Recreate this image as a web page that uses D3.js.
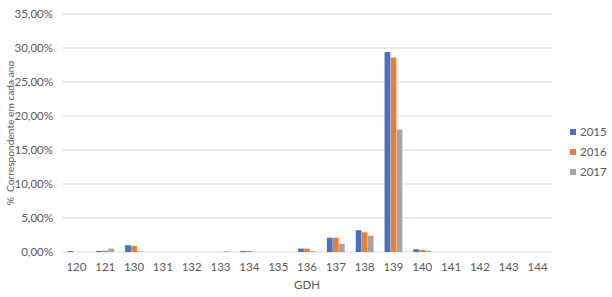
<!DOCTYPE html>
<html>
<head>
<meta charset="utf-8">
<script src="https://cdn.jsdelivr.net/npm/d3@7"></script>
<style>
  body { margin: 0; background: #fff; }
  text { font-family: Lato, "Open Sans", sans-serif; fill: #595959; }
</style>
</head>
<body>
<div id="chart"></div>
<script>
// data
const categories = ["120","121","130","131","132","133","134","135","136","137","138","139","140","141","142","143","144"];
const years = ["2015","2016","2017"];
const values2015 = [0.15, 0.15, 1.0, 0, 0, 0, 0.15, 0, 0.5, 2.1, 3.2, 29.4, 0.4, 0, 0, 0, 0];
const values2016 = [0.0, 0.2, 0.9, 0, 0, 0, 0.15, 0, 0.5, 2.1, 2.9, 28.6, 0.3, 0, 0, 0, 0];
const values2017 = [0.0, 0.5, 0.1, 0, 0, 0.1, 0.0, 0, 0.1, 1.2, 2.4, 18.0, 0.2, 0, 0, 0, 0];
const yTicks = [0, 5, 10, 15, 20, 25, 30, 35];
const colors = ["#4472C4", "#ED7D31", "#A5A5A5"];

const series = [values2015, values2016, values2017];
const rows = categories.map((c, i) => ({cat: c, vals: series.map(s => s[i])}));

const W = 612, H = 297;
const margin = {top: 14, right: 60, bottom: 45, left: 62};
const width = W - margin.left - margin.right;
const height = H - margin.top - margin.bottom;

const svg = d3.select("#chart").append("svg")
    .attr("width", W).attr("height", H);
const g = svg.append("g")
    .attr("transform", "translate(" + margin.left + "," + margin.top + ")");

const x = d3.scaleBand().domain(categories).range([0, width]).paddingInner(0).paddingOuter(0);
const x1 = d3.scaleBand().domain(years).range([0, x.bandwidth() * 0.64]).padding(0.05);
const y = d3.scaleLinear().domain([0, 35]).range([height, 0]);

// gridlines
g.selectAll(".grid").data(yTicks).join("line")
    .attr("x1", 0).attr("x2", width)
    .attr("y1", d => y(d)).attr("y2", d => y(d))
    .attr("stroke", "#d9d9d9").attr("stroke-width", 1);

// y tick labels
g.selectAll(".ylab").data(yTicks).join("text")
    .attr("x", -9).attr("y", d => y(d)).attr("dy", "0.35em")
    .attr("text-anchor", "end").style("font-size", "11.5px")
    .text(d => d.toFixed(2).replace(".", ",") + "%");

// bars
const groupOffset = (x.bandwidth() - x1.range()[1]) / 2;
const grp = g.selectAll(".grp").data(rows).join("g")
    .attr("transform", d => "translate(" + (x(d.cat) + groupOffset) + ",0)");
grp.selectAll("rect").data(d => d.vals.map((v, i) => ({v, year: years[i], i}))).join("rect")
    .attr("x", d => x1(d.year))
    .attr("width", x1.bandwidth())
    .attr("y", d => y(d.v))
    .attr("height", d => y(0) - y(d.v))
    .attr("fill", d => colors[d.i]);

// x axis labels
g.selectAll(".xlab").data(categories).join("text")
    .attr("x", d => x(d) + x.bandwidth() / 2)
    .attr("y", height + 19)
    .attr("text-anchor", "middle").style("font-size", "11.5px")
    .text(d => d);

// axis titles
svg.append("text")
    .attr("x", margin.left + width / 2).attr("y", 289)
    .attr("text-anchor", "middle").style("font-size", "11.5px")
    .text("GDH");
svg.append("text")
    .attr("transform", "rotate(-90)")
    .attr("x", -(margin.top + height / 2)).attr("y", 14)
    .attr("text-anchor", "middle").style("font-size", "10.2px")
    .attr("xml:space", "preserve")
    .text("%  Correspondente em cada ano");

// legend
const leg = svg.selectAll(".leg").data(years).join("g")
    .attr("transform", (d, i) => "translate(570," + (132 + i * 20) + ")");
leg.append("rect").attr("x", 0).attr("y", -3).attr("width", 6).attr("height", 6)
    .attr("fill", (d, i) => colors[i]);
leg.append("text").attr("x", 10).attr("dy", "0.35em")
    .style("font-size", "11.5px").text(d => d);
</script>
</body>
</html>
